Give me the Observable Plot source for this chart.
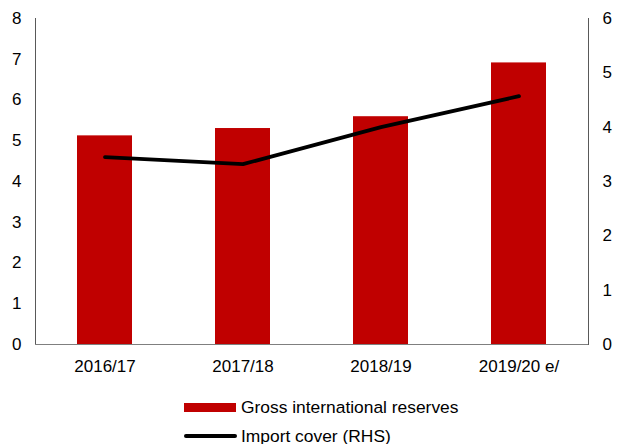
<!DOCTYPE html>
<html><head><meta charset="utf-8">
<script src="https://cdn.jsdelivr.net/npm/d3@7"></script>
<script src="https://cdn.jsdelivr.net/npm/@observablehq/plot@0.6"></script>
<style>
body{margin:0;background:#fff;font-family:"Liberation Sans",Arial,sans-serif;width:619px;height:444px;overflow:hidden;position:relative;}
#chart svg{display:block;}
.lg{position:absolute;left:184px;display:flex;align-items:center;font-size:17.4px;color:#000;white-space:nowrap;height:20px;}
.sw-bar{width:52px;height:9px;background:#c00000;margin-right:5px;}
.sw-line{width:53px;height:4px;border-radius:2px;background:#000;margin-right:4px;}
</style></head><body>
<div id="chart"></div>
<div class="lg" style="top:397px"><span class="sw-bar"></span><span>Gross international reserves</span></div>
<div class="lg" style="top:426px"><span class="sw-line"></span><span>Import cover (RHS)</span></div>
<script>
const years = ["2016/17", "2017/18", "2018/19", "2019/20 e/"];
const reserves = [5.12, 5.30, 5.59, 6.91];
const importCover = [3.45, 3.32, 4.00, 4.57];
const leftTicks = [0, 1, 2, 3, 4, 5, 6, 7, 8];
const rightTicks = [0, 1, 2, 3, 4, 5, 6];
const lhsMax = 8, rhsMax = 6;
const toLeft = v => v * lhsMax / rhsMax;
const data = years.map((y, i) => ({year: y, reserves: reserves[i], cover: importCover[i]}));

const plot = Plot.plot({
  width: 619, height: 385,
  marginLeft: 35, marginRight: 31, marginTop: 18, marginBottom: 41,
  style: {fontFamily: '"Liberation Sans", Arial, sans-serif', fontSize: "17px", color: "#000", background: "#fff", overflow: "visible"},
  x: {domain: years, paddingInner: 0.6, paddingOuter: 0.3, label: null},
  y: {domain: [0, lhsMax], label: null},
  marks: [
    Plot.barY(data, {x: "year", y: "reserves", fill: "#c00000"}),
    Plot.frame({anchor: "left", stroke: "#595959", strokeWidth: 1}),
    Plot.frame({anchor: "right", stroke: "#595959", strokeWidth: 1}),
    Plot.ruleY([0], {stroke: "#7f7f7f", strokeWidth: 1.2}),
    Plot.line(data, {x: "year", y: d => toLeft(d.cover), stroke: "#000", strokeWidth: 3.8, strokeLinecap: "round", strokeLinejoin: "round"}),
    Plot.axisY(leftTicks, {anchor: "left", tickSize: 0, tickPadding: 14, label: null, fontSize: 17}),
    Plot.axisY(rightTicks.map(toLeft), {anchor: "right", tickSize: 0, tickPadding: 14, label: null, fontSize: 17, tickFormat: d => String(Math.round(d * rhsMax / lhsMax))}),
    Plot.axisX({tickSize: 0, tickPadding: 15, label: null, fontSize: 17})
  ]
});
document.getElementById("chart").appendChild(plot);
</script>
</body></html>
